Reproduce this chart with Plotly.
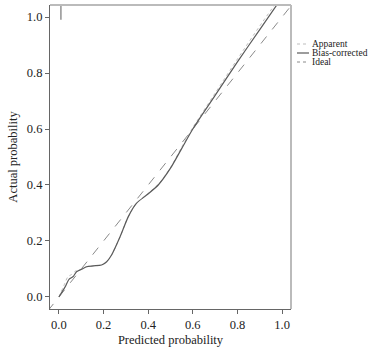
import plotly.graph_objects as go

# Bias-corrected calibration curve
bc_x = [0.0, 0.027, 0.046, 0.064, 0.079, 0.102, 0.124, 0.154, 0.191, 0.214, 0.236, 0.274,
        0.311, 0.348, 0.393, 0.445, 0.5, 0.55, 0.6, 0.7, 0.8, 0.9, 0.978]
bc_y = [0.0, 0.035, 0.064, 0.073, 0.09, 0.099, 0.108, 0.111, 0.114, 0.126, 0.15, 0.215,
        0.287, 0.335, 0.364, 0.40, 0.46, 0.53, 0.60, 0.72, 0.84, 0.955, 1.045]
# Apparent calibration curve
ap_x = [0.0, 0.022, 0.04, 0.056, 0.075, 0.102, 0.124, 0.154, 0.191, 0.214, 0.236, 0.274,
        0.311, 0.348, 0.393, 0.445, 0.5, 0.55, 0.6, 0.7, 0.8, 0.9, 0.968]
ap_y = [0.0, 0.04, 0.072, 0.08, 0.093, 0.1, 0.108, 0.111, 0.114, 0.126, 0.15, 0.215,
        0.287, 0.335, 0.366, 0.402, 0.462, 0.535, 0.605, 0.728, 0.85, 0.968, 1.045]
# Spike at the start of the curve
spike_x = [0.009, 0.009]
spike_y = [0.99, 1.05]
# Ideal line
ideal_x = [-0.05, 1.1]
ideal_y = [-0.05, 1.1]

tick_vals = [0.0, 0.2, 0.4, 0.6, 0.8, 1.0]
tick_text = ["0.0", "0.2", "0.4", "0.6", "0.8", "1.0"]
legend_names = ["Apparent", "Bias-corrected", "Ideal"]

FONT = "Liberation Serif"

fig = go.Figure()
fig.add_trace(go.Scatter(x=ideal_x, y=ideal_y, mode="lines",
                         line=dict(color="#8a8a8a", width=1, dash="dash"), showlegend=False))
fig.add_trace(go.Scatter(x=ap_x, y=ap_y, mode="lines", line_shape="spline",
                         line=dict(color="#bdbdbd", width=1, dash="dot", smoothing=0.7),
                         showlegend=False))
fig.add_trace(go.Scatter(x=bc_x, y=bc_y, mode="lines", line_shape="spline",
                         line=dict(color="#5a5a5a", width=1.2, smoothing=0.7), showlegend=False))
fig.add_trace(go.Scatter(x=spike_x, y=spike_y, mode="lines",
                         line=dict(color="#777777", width=1.2), showlegend=False))

# Manual legend (pixel rows of the reference)
styles = [dict(color="#bdbdbd", width=1, dash="dot"),
          dict(color="#5a5a5a", width=1.2),
          dict(color="#8a8a8a", width=1, dash="dot")]
ys = [44, 53, 62]
for name, st, yy in zip(legend_names, styles, ys):
    yp = (349 - 40 - yy) / 304
    fig.add_shape(type="line", xref="paper", yref="paper",
                  x0=(297 - 50) / 241, x1=(309 - 50) / 241, y0=yp, y1=yp, line=st)
    fig.add_annotation(text=name, xref="paper", yref="paper",
                       x=(311 - 50) / 241, y=yp, borderpad=0,
                       xanchor="left", yanchor="middle", showarrow=False,
                       font=dict(family=FONT, size=9.5, color="#222"))

# top and right frame lines
fig.add_shape(type="line", xref="paper", yref="paper", x0=0, x1=1, y0=1, y1=1,
              line=dict(color="#bbbbbb", width=2), layer="above")
fig.add_shape(type="line", xref="paper", yref="paper", x0=1, x1=1, y0=0, y1=1,
              line=dict(color="#bbbbbb", width=2), layer="above")

fig.update_layout(
    width=373, height=349,
    margin=dict(l=50, r=82, t=5, b=40),
    plot_bgcolor="white", paper_bgcolor="white",
    font=dict(family=FONT, size=12.5, color="#222"),
    showlegend=False,
)
fig.update_xaxes(range=[-0.04, 1.04], tickvals=tick_vals, ticktext=tick_text,
                 showgrid=False, zeroline=False, showline=True, linecolor="#666", linewidth=1.2,
                 ticks="outside", ticklen=4, tickcolor="#666",
                 title=dict(text="Predicted probability", standoff=4, font=dict(size=12.5)))
fig.update_yaxes(range=[-0.043, 1.043], tickvals=tick_vals, ticktext=tick_text,
                 showgrid=False, zeroline=False, showline=True, linecolor="#666", linewidth=1.2,
                 ticks="outside", ticklen=4, tickcolor="#666",
                 title=dict(text="Actual probability", standoff=6, font=dict(size=12.5)))

fig.write_html("out.html", config={"displayModeBar": False},
               post_script="document.body.style.margin='0';document.body.style.overflow='hidden';")
